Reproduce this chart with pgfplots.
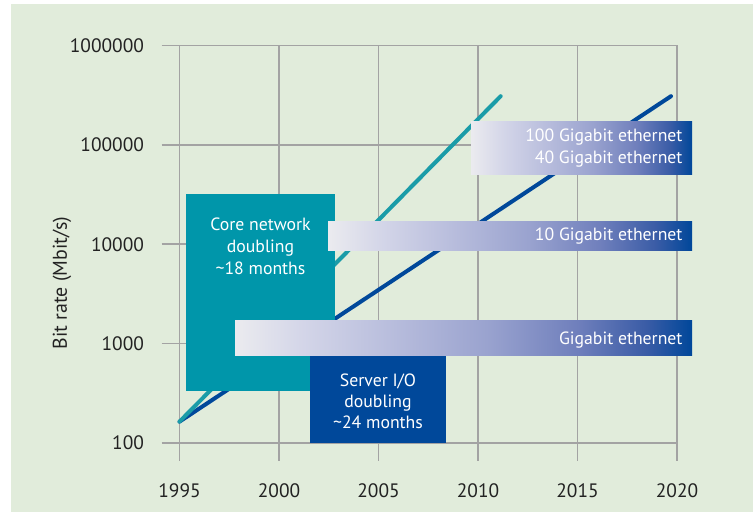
\documentclass[border=0pt]{standalone}
\usepackage{pgfplots}
\pgfplotsset{compat=1.18}
\usepackage{fontspec}
\setmainfont{PT Sans}
\definecolor{bggreen}{HTML}{E1ECDB}
\definecolor{gridgray}{HTML}{A3A3A3}
\definecolor{coreteal}{HTML}{0096AA}
\definecolor{lineteal}{HTML}{1A9CA8}
\definecolor{darkblue}{HTML}{00489A}
\definecolor{txtgray}{HTML}{222222}
\definecolor{gA}{HTML}{EBEBEF}
\definecolor{gB}{HTML}{D3D5E8}
\definecolor{gC}{HTML}{B7BCDC}
\definecolor{gD}{HTML}{9AA3CF}
\definecolor{gE}{HTML}{6F7FBC}
\definecolor{gF}{HTML}{3A5CA6}
\definecolor{gG}{HTML}{00479A}
\pgfdeclarehorizontalshading{ethbar}{100bp}{color(0bp)=(gA); color(25bp)=(gA); color(32.5bp)=(gB); color(42.5bp)=(gC); color(52.5bp)=(gD); color(62.5bp)=(gE); color(70bp)=(gF); color(75bp)=(gG); color(100bp)=(gG)}
\begin{document}
\begin{tikzpicture}[x=1bp,y=1bp]
\useasboundingbox (0,0) rectangle (753,512);
\fill[white] (0,0) rectangle (753,512);
\fill[bggreen] (11,0) rectangle (753,508);
\begin{axis}[
  at={(179.5bp,69bp)}, anchor=south west,
  width=497.5bp, height=397.5bp, scale only axis,
  xmin=1995, xmax=2020, ymode=log, ymin=100, ymax=1000000,
  xtick={1995,2000,2005,2010,2015,2020},
  xticklabels={1995,2000,2005,2010,2015,2020},
  ytick={100,1000,10000,100000,1000000},
  yticklabels={100,1000,10000,100000,1000000},
  yminorticks=false,
  grid=major,
  major grid style={gridgray, line width=1.5bp},
  axis line style={gridgray, line width=1.5bp},
  tick pos=left,
  xtick align=outside, ytick align=outside,
  major tick length=18bp,
  every tick/.style={gridgray, line width=1.5bp},
  every tick label/.append style={font=\fontsize{19.5}{19.5}\selectfont, text=txtgray},
  every x tick label/.append style={anchor=north, yshift=-19bp},
  every y tick label/.append style={anchor=east, xshift=-14bp},
  clip=false,
]
\addplot[darkblue, line width=4bp, line cap=round] coordinates {(1995,164) (2019.7,309000)};
\addplot[lineteal, line width=4bp, line cap=round] coordinates {(1995,164) (2011.14,309000)};
\end{axis}
\node[rotate=90, text=txtgray, font=\fontsize{20}{20}\selectfont] at (62,229) {Bit rate (Mbit/s)};
% boxes
\fill[coreteal] (186,121) rectangle (335,318);
\node[text=white, align=center, font=\fontsize{17.8}{22}\selectfont] at (260.5,266) {Core network\\doubling\\\textasciitilde18 months};
\fill[darkblue] (310,69) rectangle (446,160);
\node[text=white, align=center, font=\fontsize{17.8}{21}\selectfont] at (378,111) {Server I/O\\doubling\\\textasciitilde24 months};
\shade[shading=ethbar] (235,156) rectangle (692,191);
\node[text=white, anchor=east, font=\fontsize{17.8}{21}\selectfont] at (686,172) {Gigabit ethernet};
\shade[shading=ethbar] (328,261) rectangle (692,290);
\node[text=white, anchor=east, font=\fontsize{17.8}{21}\selectfont] at (686,275.5) {10 Gigabit ethernet};
\shade[shading=ethbar] (471,337) rectangle (692,390);
\node[text=white, anchor=east, align=right, font=\fontsize{17.8}{22}\selectfont] at (686,363.5) {100 Gigabit ethernet\\40 Gigabit ethernet};
\end{tikzpicture}
\end{document}
